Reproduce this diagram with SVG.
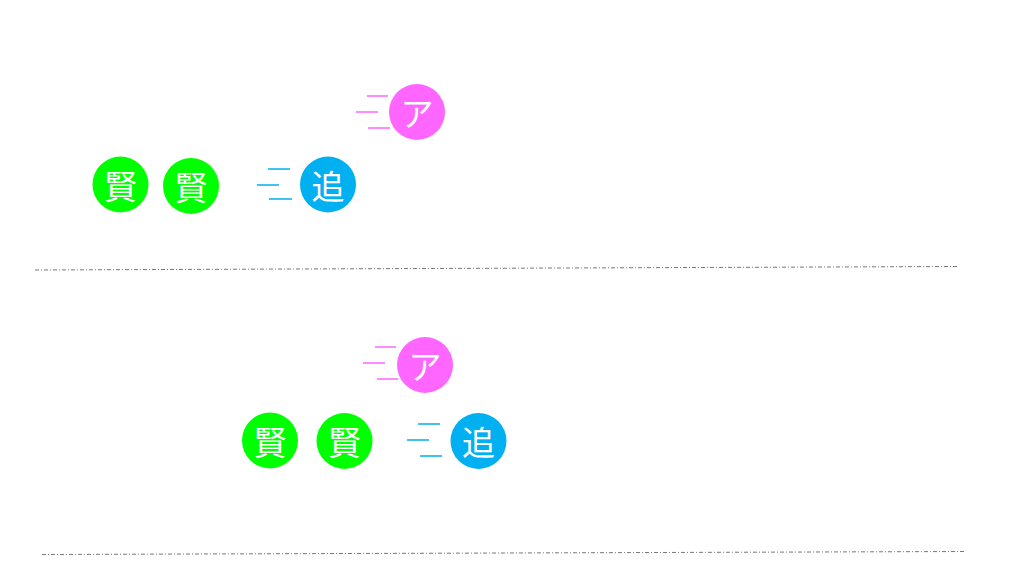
<svg xmlns="http://www.w3.org/2000/svg" width="1024" height="576" viewBox="0 0 1024 576">
<style>
.t{font-family:"Noto Sans CJK JP","Noto Sans CJK SC",sans-serif;font-size:33px;fill:#fff;text-anchor:middle;dominant-baseline:central}
.g{fill:#00ff00}
.b{fill:#00b0f0}
.p{fill:#ff66ff}
.sb{stroke:#00b0f0;stroke-width:1.5;fill:none}
.sp{stroke:#ff66ff;stroke-width:1.5;fill:none}
.div{stroke:#777;stroke-width:1;stroke-dasharray:4 2 1 2;fill:none}
</style>
<rect width="1024" height="576" fill="#fff"/>
<g id="connectors">
<line class="div" x1="35" y1="270" x2="958" y2="266.5"/>
<line class="div" x1="42" y1="554.5" x2="966" y2="551.5"/>
<path class="sp" d="M367 96H388M356 112H378M368 128H390"/>
<path class="sb" d="M268 169H290M257 185H279M269 199H292"/>
<path class="sp" d="M375 347H396M363 363H385M377 379H398"/>
<path class="sb" d="M418 424H440M407 440H429M420 456H442"/>
</g>
<g id="k1"><circle class="g" cx="120.5" cy="184.5" r="28"/><text class="t" x="120.5" y="184.5">賢</text></g>
<g id="k2"><circle class="g" cx="191" cy="186" r="28"/><text class="t" x="191" y="186">賢</text></g>
<g id="o1"><circle class="b" cx="328" cy="184.5" r="28"/><text class="t" x="328" y="184.5">追</text></g>
<g id="a1"><circle class="p" cx="417" cy="112" r="28"/><text class="t" x="417" y="112">ア</text></g>
<g id="k3"><circle class="g" cx="270" cy="440.5" r="28"/><text class="t" x="270" y="440.5">賢</text></g>
<g id="k4"><circle class="g" cx="344.5" cy="441" r="28"/><text class="t" x="344.5" y="441">賢</text></g>
<g id="o2"><circle class="b" cx="478.5" cy="441" r="28"/><text class="t" x="478.5" y="441">追</text></g>
<g id="a2"><circle class="p" cx="425" cy="365" r="28"/><text class="t" x="425" y="365">ア</text></g>
</svg>
